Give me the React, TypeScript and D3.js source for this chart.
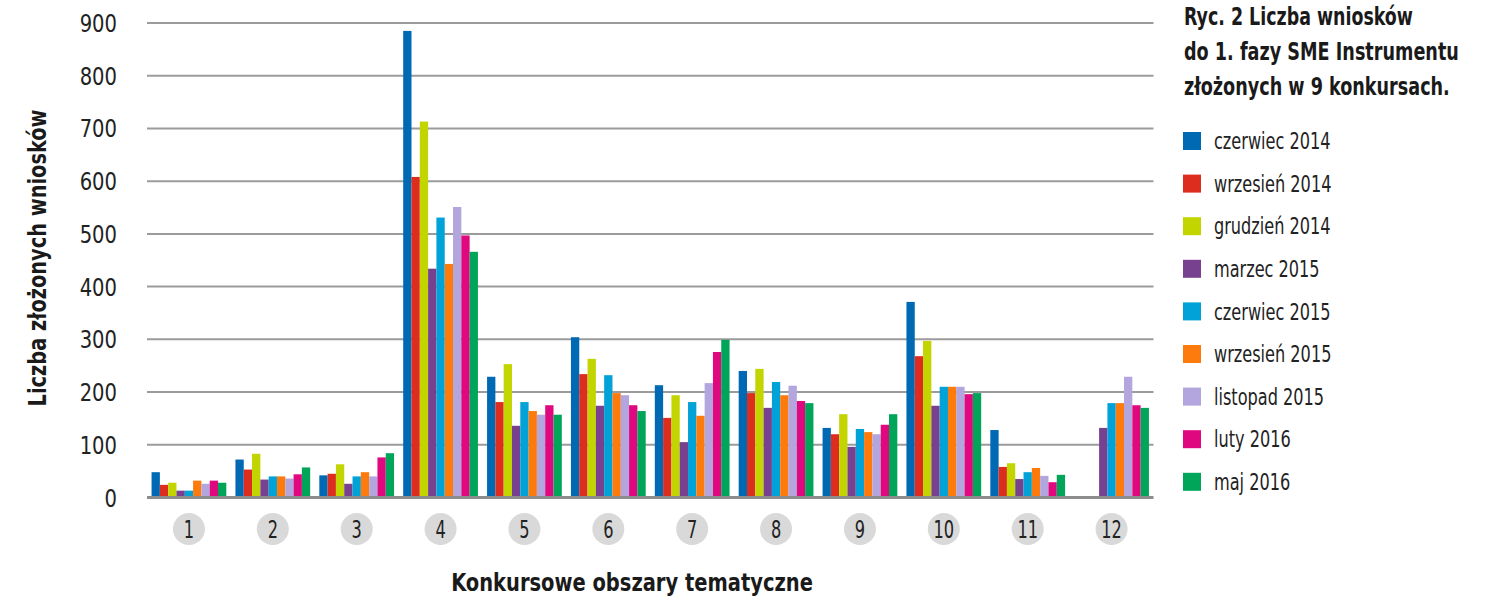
import React, { useLayoutEffect, useRef, useState } from 'react';
import * as d3 from 'd3';

const categories = ['1', '2', '3', '4', '5', '6', '7', '8', '9', '10', '11', '12'];
const seriesNames = [
  'czerwiec 2014', 'wrzesień 2014', 'grudzień 2014', 'marzec 2015', 'czerwiec 2015',
  'wrzesień 2015', 'listopad 2015', 'luty 2016', 'maj 2016',
];
const seriesColors = [
  '#0069b4', '#dc2d1e', '#c3d500', '#77418f', '#00a2d8',
  '#fd7a0c', '#b3a5de', '#e0087f', '#00a55a',
];

// values per series, one per thematic area (1..12)
const czerwiec2014 = [48, 72, 42, 885, 229, 304, 213, 240, 132, 371, 128, 0];
const wrzesien2014 = [24, 53, 45, 608, 181, 234, 151, 198, 120, 268, 58, 0];
const grudzien2014 = [28, 83, 63, 713, 253, 263, 194, 244, 158, 297, 65, 0];
const marzec2015 = [13, 34, 26, 434, 136, 174, 105, 170, 96, 174, 35, 132];
const czerwiec2015 = [13, 40, 40, 531, 181, 232, 181, 219, 130, 210, 48, 179];
const wrzesien2015 = [32, 40, 48, 443, 164, 198, 155, 194, 124, 210, 56, 179];
const listopad2015 = [26, 36, 40, 551, 157, 194, 217, 212, 120, 210, 41, 229];
const luty2016 = [32, 44, 76, 497, 175, 175, 276, 183, 138, 196, 29, 175];
const maj2016 = [28, 57, 84, 466, 157, 164, 299, 179, 158, 198, 43, 170];

const seriesValues = [
  czerwiec2014, wrzesien2014, grudzien2014, marzec2015, czerwiec2015,
  wrzesien2015, listopad2015, luty2016, maj2016,
];
const yTicks = [0, 100, 200, 300, 400, 500, 600, 700, 800, 900];
const titleLines = ['Ryc. 2 Liczba wniosków', 'do 1. fazy SME Instrumentu', 'złożonych w 9 konkursach.'];
const titleWidths = [229, 275, 266];

const FONT = '"DejaVu Sans Condensed", "DejaVu Sans", sans-serif';

// text squeezed horizontally to a given width (the original uses a condensed face)
function FitText({ x, y, w, rotate = 0, anchor = 'start', children, ...rest }: any) {
  const ref = useRef<SVGTextElement>(null);
  const [sx, setSx] = useState(1);
  useLayoutEffect(() => {
    const n = ref.current;
    if (n) {
      const len = n.getComputedTextLength();
      if (len > 0) setSx(w / len);
    }
  }, [w, children]);
  return (
    <text ref={ref} transform={`translate(${x},${y}) rotate(${rotate}) scale(${sx},1)`}
      textAnchor={anchor} {...rest}>{children}</text>
  );
}

export default function App() {
  const width = 1491;
  const height = 599;

  const x0 = d3.scaleBand<string>().domain(categories).range([147, 1153.5]).paddingInner(0);
  const x1 = d3.scaleBand<number>()
    .domain(d3.range(seriesNames.length))
    .range([0, x0.bandwidth()])
    .paddingOuter(0.55)
    .paddingInner(0);
  const y = d3.scaleLinear().domain([0, 900]).range([497.5, 23]);

  return (
    <svg width={width} height={height} style={{ position: 'absolute', left: 0, top: 0, background: '#fff' }}>
      {/* grid */}
      {yTicks.filter(t => t > 0).map(t => (
        <line key={t} x1={147} x2={1153.5} y1={y(t)} y2={y(t)} stroke="#9b9b9b" strokeWidth={2} />
      ))}

      {/* bars */}
      {categories.map((c, ci) => (
        <g key={c} transform={`translate(${x0(c)},0)`}>
          {seriesValues.map((vals, si) => vals[ci] > 0 && (
            <rect
              key={si}
              x={x1(si)}
              y={y(vals[ci])}
              width={x1.bandwidth()}
              height={y(0) - y(vals[ci])}
              fill={seriesColors[si]}
            />
          ))}
        </g>
      ))}

      {/* baseline */}
      <line x1={147} x2={1153.5} y1={y(0)} y2={y(0)} stroke="#8c8c8c" strokeWidth={3} />

      {/* y tick labels */}
      {yTicks.map(t => (
        <text key={t} transform={`translate(117,${y(t)}) scale(0.87,1)`} dy="0.36em" textAnchor="end"
          fontFamily={FONT} fontSize={25} fill="#222">{t}</text>
      ))}

      {/* y title */}
      <FitText x={46} y={258} w={297} rotate={-90} anchor="middle"
        fontFamily={FONT} fontWeight="bold" fontSize={24} fill="#1a1a1a">
        Liczba złożonych wniosków
      </FitText>

      {/* category circles */}
      {categories.map(c => {
        const cx = (x0(c) ?? 0) + x0.bandwidth() / 2;
        return (
          <g key={c}>
            <circle cx={cx} cy={529} r={16} fill="#d9d9d9" />
            <text transform={`translate(${cx},529) scale(0.75,1)`} dy="0.36em" textAnchor="middle"
              fontFamily={FONT} fontSize={24} fill="#222">{c}</text>
          </g>
        );
      })}

      {/* x title */}
      <FitText x={632} y={591} w={362} anchor="middle" fontFamily={FONT} fontWeight="bold"
        fontSize={25} fill="#1a1a1a">
        Konkursowe obszary tematyczne
      </FitText>

      {/* chart title */}
      {titleLines.map((l, i) => (
        <FitText key={l} x={1184} y={25 + i * 35} w={titleWidths[i]} fontFamily={FONT}
          fontWeight="bold" fontSize={25} fill="#1a1a1a">{l}</FitText>
      ))}

      {/* legend */}
      {seriesNames.map((n, i) => {
        const cy = 141 + i * 42.6;
        return (
          <g key={n}>
            <rect x={1183} y={cy - 9} width={18} height={18} fill={seriesColors[i]} />
            <text transform={`translate(1214,${cy}) scale(0.78,1)`} dy="0.36em"
              fontFamily={FONT} fontSize={23} fill="#222">{n}</text>
          </g>
        );
      })}
    </svg>
  );
}
